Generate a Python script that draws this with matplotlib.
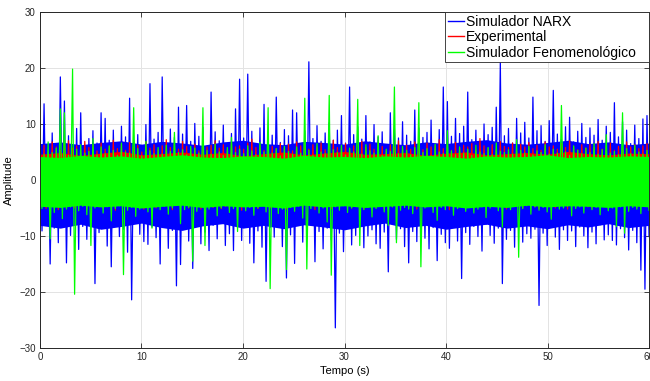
import numpy as np
import matplotlib as mpl
mpl.use('Agg')
import matplotlib.pyplot as plt
from matplotlib.patches import Rectangle

plt.rcParams['font.family'] = ['Liberation Sans', 'DejaVu Sans']

## solid band of each signal, read every 2 s (upper / lower edge)
t_core = np.arange(0, 61, 2)
narx_core_hi = [6.5, 6.8, 6.3, 6.7, 7.0, 6.4, 6.9, 6.6, 6.2, 6.8, 7.1, 6.5, 6.3, 6.9, 6.7, 6.4,
                7.0, 6.6, 6.3, 6.8, 6.5, 6.9, 7.2, 6.6, 6.4, 6.7, 7.1, 6.5, 6.8, 6.3, 6.6]
narx_core_lo = [-8.1, -8.6, -7.9, -8.8, -8.3, -7.7, -8.5, -9.0, -8.2, -7.8, -8.6, -8.1, -8.7, -8.0, -8.4, -8.9,
                -8.2, -7.7, -8.5, -8.1, -8.8, -8.3, -7.9, -8.6, -8.2, -8.7, -8.0, -8.4, -7.8, -8.5, -8.1]
exp_core_hi = [4.6, 4.9, 4.4, 4.8, 5.1, 4.5, 4.7, 5.0, 4.6, 4.9, 4.3, 4.7, 5.0, 4.5, 4.8, 5.1,
               4.6, 4.7, 4.9, 4.4, 4.8, 5.0, 4.5, 4.7, 4.9, 4.6, 5.1, 4.7, 4.5, 4.8, 4.7]
exp_core_lo = [-4.0, -4.2, -3.9, -4.1, -4.3, -3.8, -4.0, -4.2, -3.9, -4.1, -4.0, -4.3, -3.8, -4.1, -4.0, -4.2,
               -3.9, -4.1, -4.3, -4.0, -3.8, -4.2, -4.0, -4.1, -3.9, -4.2, -4.0, -4.3, -3.9, -4.1, -4.0]
feno_core_hi = [4.2, 4.0, 4.4, 4.1, 4.3, 3.9, 4.2, 4.5, 4.1, 4.0, 4.3, 4.2, 3.9, 4.4, 4.1, 4.2,
                4.0, 4.3, 4.1, 4.4, 4.2, 3.9, 4.3, 4.1, 4.2, 4.5, 4.0, 4.2, 4.1, 4.3, 4.2]
feno_core_lo = [-4.7, -4.9, -4.5, -4.8, -4.6, -5.0, -4.7, -4.5, -4.9, -4.6, -4.8, -4.7, -5.0, -4.5, -4.8, -4.6,
                -4.9, -4.7, -4.5, -4.8, -4.6, -5.0, -4.7, -4.9, -4.5, -4.8, -4.6, -4.7, -4.9, -4.6, -4.8]

## peak values, one upper and one lower peak per 0.4 s slot
narx_hi = [7.2, 13.6, 6.1, 8.4, 5.5, 18.4, 14.1, 7.9, 6.3, 9.2, 12.0, 5.8, 7.4, 8.8, 6.6,
           12.0, 11.0, 7.1, 8.9, 6.2, 9.6, 7.7, 14.6, 6.8, 8.1, 5.9, 9.9, 17.2, 7.3, 8.5,
           18.4, 6.4, 9.1, 7.6, 13.0, 8.2, 13.3, 6.9, 10.1, 7.8, 9.4, 6.0, 15.7, 8.6, 7.0,
           9.8, 6.5, 8.3, 12.7, 18.0, 7.5, 18.9, 8.7, 6.3, 9.3, 13.5, 7.2, 8.0, 14.8, 6.7,
           9.0, 7.9, 12.5, 12.0, 6.4, 8.8, 21.1, 7.4, 9.7, 6.9, 8.4, 10.2, 7.1, 8.9, 11.5,
           6.6, 16.6, 8.1, 9.5, 7.3, 11.5, 6.8, 9.9, 7.7, 8.6, 6.2, 12.0, 9.1, 7.5, 10.4,
           8.0, 6.9, 12.5, 9.3, 7.6, 8.5, 10.7, 6.4, 9.0, 16.6, 14.0, 7.8, 11.0, 8.3, 9.6,
           15.7, 7.2, 8.9, 6.7, 10.0, 8.1, 9.4, 13.0, 21.0, 7.9, 9.2, 6.6, 11.0, 8.4, 10.3,
           7.5, 14.8, 8.8, 9.7, 6.9, 10.6, 16.0, 8.2, 7.3, 9.5, 11.2, 6.8, 8.7, 10.1, 7.6,
           9.3, 8.0, 10.8, 7.1, 9.6, 8.5, 13.8, 7.7, 10.4, 8.9, 6.5, 9.8, 7.4, 10.9, 11.5]
narx_lo = [-9.1, -7.4, -15.0, -8.6, -11.2, -6.8, -14.8, -9.9, -7.7, -12.4, -8.3, -10.6, -7.1, -18.5, -9.4,
           -8.0, -11.8, -15.5, -7.6, -10.1, -8.8, -12.9, -21.4, -7.3, -9.7, -11.0, -11.5, -8.4, -10.3, -15.0,
           -7.9, -12.2, -9.0, -18.9, -15.1, -8.7, -10.9, -15.8, -7.5, -11.4, -9.3, -12.6, -8.1, -10.5, -7.2,
           -11.7, -9.6, -12.6, -8.2, -10.8, -7.8, -11.3, -14.8, -9.1, -12.0, -18.1, -8.5, -10.2, -7.4, -11.9,
           -17.5, -9.8, -14.9, -8.0, -11.1, -10.4, -7.7, -14.6, -9.2, -12.3, -8.6, -10.7, -26.4, -9.5, -12.8,
           -8.3, -11.6, -9.9, -7.6, -12.1, -10.0, -8.9, -11.4, -12.2, -9.3, -16.4, -7.9, -10.6, -8.7, -11.9,
           -14.8, -9.2, -11.0, -7.8, -10.4, -12.3, -8.5, -14.4, -9.7, -11.2, -12.2, -8.1, -10.9, -17.6, -9.4,
           -11.5, -8.3, -10.1, -12.7, -7.9, -9.9, -11.3, -8.6, -18.5, -10.6, -9.0, -12.0, -8.2, -11.1, -9.6,
           -10.4, -8.8, -22.4, -9.5, -11.7, -7.7, -10.2, -12.4, -8.9, -10.8, -9.1, -11.9, -8.4, -10.0, -12.1,
           -9.3, -11.4, -8.0, -10.7, -9.8, -10.8, -11.6, -8.7, -10.3, -12.5, -9.0, -11.2, -16.1, -19.5, -10.1]

exp_hi = [5.6, 6.2, 5.1, 6.8, 5.9, 5.3, 6.5, 7.0, 5.7, 6.1, 5.4, 6.9, 5.8, 6.3, 5.2,
          6.6, 5.5, 6.0, 7.1, 5.6, 6.4, 5.3, 6.7, 5.9, 6.2, 5.0, 6.8, 5.7, 6.3, 5.4,
          6.1, 7.2, 5.8, 6.5, 5.5, 6.9, 6.0, 5.6, 6.4, 5.2, 6.7, 5.9, 6.2, 7.0, 5.7,
          6.3, 5.4, 6.8, 5.9, 6.1, 5.5, 6.6, 7.3, 5.8, 6.2, 5.3, 6.9, 6.0, 5.6, 6.5,
          5.7, 6.4, 5.2, 6.8, 6.1, 7.0, 5.5, 6.3, 5.9, 6.6, 5.4, 6.2, 7.1, 5.8, 6.0,
          6.5, 5.6, 6.1, 5.3, 6.9, 5.8, 6.4, 5.5, 6.7, 6.0, 5.2, 6.3, 5.9, 7.0, 5.7,
          6.2, 5.5, 6.8, 6.0, 5.4, 6.6, 5.9, 6.1, 7.2, 5.6, 6.4, 5.3, 6.7, 5.8, 6.2,
          5.9, 6.5, 5.4, 7.4, 6.1, 5.7, 6.3, 5.5, 6.9, 6.0, 5.8, 6.6, 5.2, 6.4, 5.9,
          6.7, 5.6, 6.2, 5.3, 6.8, 5.9, 6.1, 5.5, 6.5, 5.8, 7.0, 6.0, 5.4, 6.3, 5.7,
          6.4, 5.8, 6.9, 5.5, 6.2, 6.6, 5.3, 6.0, 5.7, 6.8, 5.9, 6.3, 5.6, 6.1, 6.5]
exp_lo = [-4.4, -5.1, -3.9, -4.7, -5.3, -4.2, -4.9, -3.8, -5.0, -4.5, -4.1, -5.2, -4.6, -3.9, -4.8,
          -5.0, -4.3, -4.8, -5.4, -4.0, -4.6, -5.1, -4.2, -4.9, -3.8, -5.2, -4.4, -4.7, -5.0, -4.1,
          -4.6, -3.9, -5.3, -4.5, -4.8, -4.1, -5.0, -4.3, -4.7, -5.2, -3.9, -4.6, -4.9, -4.2, -5.1,
          -4.7, -5.0, -4.1, -4.5, -5.4, -4.3, -4.8, -3.9, -5.1, -4.4, -4.6, -5.0, -4.2, -4.9, -4.0,
          -5.2, -4.4, -4.7, -3.8, -5.0, -4.5, -4.1, -5.3, -4.6, -4.2, -4.9, -5.1, -4.3, -4.8, -4.0,
          -4.5, -5.0, -4.2, -4.7, -5.2, -3.9, -4.6, -4.9, -4.4, -5.1, -4.0, -4.8, -4.3, -5.0, -4.6,
          -4.9, -4.1, -5.2, -4.4, -4.7, -3.9, -5.0, -4.5, -4.2, -4.8, -5.3, -4.0, -4.6, -4.9, -4.3,
          -4.7, -5.1, -4.2, -4.5, -5.0, -4.4, -3.8, -4.9, -4.6, -5.2, -4.1, -4.7, -4.3, -5.0, -4.5,
          -4.2, -4.8, -5.1, -4.4, -3.9, -4.7, -5.0, -4.3, -4.6, -5.2, -4.1, -4.9, -4.5, -4.0, -4.8,
          -5.0, -4.3, -4.7, -3.9, -5.1, -4.5, -4.8, -4.2, -4.6, -5.3, -4.4, -4.9, -4.1, -4.7, -5.0]

feno_hi = [5.2, 4.6, 6.8, 4.9, 5.7, 12.7, 12.0, 4.4, 19.8, 5.5, 6.3, 4.8, 5.1, 7.4, 4.5,
           5.9, 4.7, 6.1, 5.3, 4.4, 6.6, 5.0, 4.8, 12.9, 5.6, 4.3, 6.9, 5.2, 4.7, 5.8,
           4.6, 6.2, 5.1, 8.5, 4.9, 5.4, 4.5, 6.0, 5.7, 4.8, 12.9, 5.3, 4.6, 6.4, 5.0,
           4.4, 5.8, 7.6, 4.9, 5.5, 4.7, 6.1, 5.2, 4.5, 6.7, 5.0, 12.9, 4.8, 5.6, 4.3,
           6.0, 5.1, 4.6, 5.9, 4.8, 14.6, 5.3, 4.4, 6.5, 5.0, 4.7, 15.1, 5.4, 4.9, 6.2,
           4.5, 5.7, 5.0, 14.4, 4.6, 6.3, 5.2, 4.8, 7.9, 4.4, 5.5, 5.1, 16.6, 4.7, 6.0,
           5.3, 4.5, 5.8, 13.8, 4.9, 5.6, 4.3, 6.4, 5.0, 4.7, 8.8, 5.2, 4.6, 5.9, 4.8,
           5.5, 4.4, 6.2, 5.0, 4.7, 5.8, 4.5, 6.6, 5.1, 4.9, 5.4, 4.6, 7.2, 5.3, 4.8,
           6.0, 4.5, 5.2, 4.9, 6.3, 4.6, 5.5, 4.8, 13.3, 5.0, 4.4, 6.1, 5.3, 4.7, 5.7,
           4.9, 6.5, 4.6, 5.4, 8.1, 4.8, 5.1, 4.5, 12.0, 5.6, 4.7, 6.2, 5.0, 4.6, 5.3]
feno_lo = [-5.1, -4.6, -10.5, -5.8, -4.4, -6.9, -5.2, -4.8, -20.4, -5.5, -4.7, -6.2, -11.7, -5.0, -4.5,
           -5.9, -4.8, -7.3, -5.1, -4.6, -16.9, -5.4, -4.9, -6.5, -5.2, -4.4, -5.7, -8.6, -4.8, -5.3,
           -4.7, -6.1, -5.0, -4.5, -7.8, -5.3, -4.9, -14.5, -5.6, -4.6, -11.7, -5.2, -4.8, -6.4, -5.0,
           -4.6, -5.8, -5.1, -9.2, -4.7, -5.5, -4.9, -6.3, -5.0, -4.5, -5.7, -19.4, -4.8, -6.0, -5.2,
           -16.0, -4.9, -5.6, -4.7, -6.8, -15.9, -5.1, -4.6, -5.9, -5.0, -7.5, -17.0, -4.8, -5.4, -4.6,
           -5.8, -5.0, -4.7, -11.7, -5.3, -4.9, -6.6, -5.1, -4.5, -5.7, -8.1, -4.8, -11.2, -5.4, -4.9,
           -5.2, -6.0, -4.7, -15.5, -5.0, -4.6, -5.8, -7.2, -4.9, -5.3, -4.6, -6.3, -5.1, -4.8, -5.6,
           -4.7, -5.9, -5.2, -4.8, -6.7, -5.0, -4.5, -5.5, -8.4, -4.9, -5.3, -4.7, -13.8, -5.1, -4.6,
           -6.1, -4.8, -5.4, -4.9, -5.7, -7.0, -4.6, -5.2, -5.0, -4.7, -6.4, -5.1, -4.8, -5.9, -4.6,
           -5.3, -4.9, -6.2, -4.7, -5.5, -5.0, -8.3, -4.8, -9.5, -5.6, -4.9, -5.2, -6.0, -4.7, -5.4]

labels = ['Simulador NARX', 'Experimental', 'Simulador Fenomenológico']
t_end = 60


# put upper and lower peaks one after the other, in time order
def interleave(hi, lo):
    sig = np.empty(2 * len(hi))
    sig[0::2] = hi
    sig[1::2] = lo
    return sig


fig = plt.figure(figsize=(6.5, 3.81), dpi=100)
ax = fig.add_axes([0.0615, 0.0866, 0.937, 0.882])

series = [(narx_hi, narx_lo, narx_core_hi, narx_core_lo, '#0000ff'),
          (exp_hi, exp_lo, exp_core_hi, exp_core_lo, '#ff0000'),
          (feno_hi, feno_lo, feno_core_hi, feno_core_lo, '#00ff00')]
handles = []
for i, ((hi, lo, chi, clo, col), lab) in enumerate(zip(series, labels)):
    # each signal drawn fully on top of the previous one
    ax.fill_between(t_core, clo, chi, color=col, lw=0, zorder=2 + 2 * i)
    sig = interleave(hi, lo)
    t = np.linspace(0, t_end, len(sig))
    ln, = ax.plot(t, sig, color=col, lw=0.9, label=lab, zorder=3 + 2 * i)
    handles.append(ln)

ax.set_xlim(0, 60)
ax.set_ylim(-30, 30)
ax.set_xticks(range(0, 61, 10))
ax.set_yticks(range(-30, 31, 10))
ax.grid(True, color='#e3e3e3', lw=0.7)
ax.set_axisbelow(True)
ax.tick_params(direction='in', length=3.5, width=0.6, labelsize=7, colors='#262626',
               top=True, right=True, pad=3)
for s in ax.spines.values():
    s.set_linewidth(0.7)
    s.set_color('#262626')
    s.set_zorder(9)

ax.set_xlabel('Tempo (s)', fontsize=8, labelpad=3)
ax.set_ylabel('Amplitude', fontsize=8, labelpad=4)

# legend box like MATLAB: wider than its text
box = Rectangle((0.665, 0.851), 0.335, 0.149, transform=ax.transAxes, facecolor='white',
                edgecolor='#262626', lw=0.6, zorder=10, clip_on=False)
ax.add_patch(box)
leg = ax.legend(handles=handles, loc='upper left', bbox_to_anchor=(0.665, 1.0), borderaxespad=0,
                fontsize=10, handlelength=1.15, handletextpad=0.15, labelspacing=0.1,
                borderpad=0.2, frameon=False)
leg.set_zorder(11)
for h in leg.get_lines():
    h.set_linewidth(1.0)

fig.savefig('out.png', dpi=100)
